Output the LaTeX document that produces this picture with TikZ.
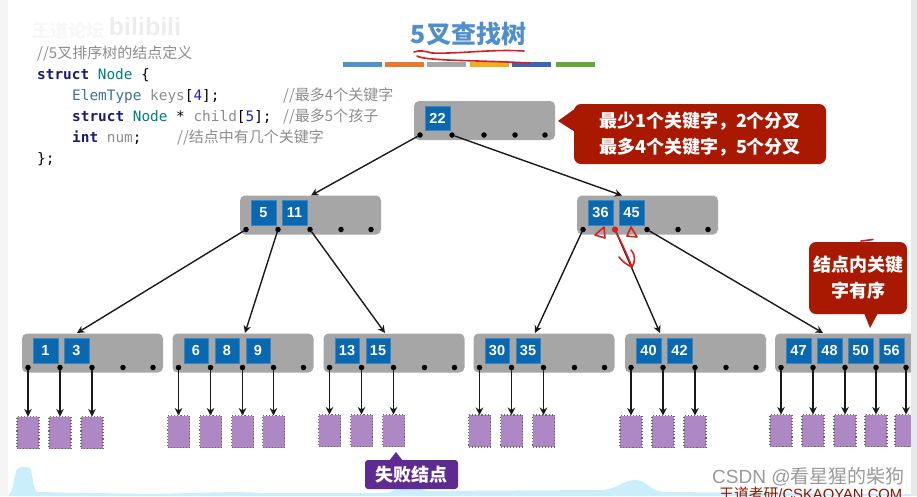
\documentclass[tikz,border=0pt]{standalone}
\usepackage{fontspec}
\setmainfont{Liberation Sans}
\setmonofont{DejaVu Sans Mono}
\newfontfamily\cjk{Noto Sans CJK SC}
\usetikzlibrary{arrows.meta}
\usetikzlibrary{calc}

\definecolor{nodegray}{HTML}{A6A6A6}
\definecolor{keyblue}{HTML}{0A68B0}
\definecolor{failviolet}{HTML}{AE88C4}
\definecolor{notered}{HTML}{A91800}
\definecolor{notepurple}{HTML}{5F2A91}
\definecolor{inkred}{HTML}{D81E1E}
\definecolor{hillblue}{HTML}{CBEEFB}
\definecolor{commentgray}{HTML}{8C8C8C}
\definecolor{titleblue}{HTML}{4F8FCB}

\tikzset{
	nodebox/.style={fill=nodegray,rounded corners=5pt,minimum width=141pt,minimum height=39pt,inner sep=0pt,outer sep=0pt,anchor=north west},
	keybox/.style={fill=keyblue,draw=keyblue!80!white,line width=.5pt,minimum size=24.5pt,inner sep=0pt,text=white,font=\bfseries\fontsize{14.5}{14.5}\selectfont},
	dotnode/.style={circle,fill=black,minimum size=5.5pt,inner sep=0pt,outer sep=0pt},
	failbox/.style={fill=failviolet,draw=black!60,dotted,line width=1.1pt,minimum width=22pt,minimum height=32pt,inner sep=0pt,outer sep=0pt},
	link/.style={-{Stealth[length=7.5pt,width=7.5pt]},line width=1.4pt,black!90},
	notebox/.style={fill=notered,rounded corners=7pt,inner sep=0pt,text=white,align=center,font=\cjk\bfseries\fontsize{18}{26}\selectfont},
	codeline/.style={anchor=base west,inner sep=0pt,font=\ttfamily\fontsize{14.4}{14.4}\selectfont,text=commentgray},
	comment/.style={anchor=base west,inner sep=0pt,font=\cjk\fontsize{15}{15}\selectfont,text=commentgray},
	scribble/.style={inkred,line width=1.6pt,line cap=round,line join=round}
}
\newcommand{\kw}[1]{\textcolor[HTML]{1A1A6E}{\textbf{#1}}}
\newcommand{\ty}[1]{\textcolor[HTML]{007F7F}{#1}}
\newcommand{\tn}[1]{\textcolor[HTML]{3F6E9E}{#1}}
\newcommand{\nm}[1]{\textcolor[HTML]{2020C0}{#1}}
\newcommand{\ink}[1]{\textcolor{black}{#1}}

% gray node: name, x, y, keys
\newcommand{\treenode}[4]{
	\node[nodebox] (#1) at (#2,#3) {};
	\foreach \k [count=\i] in {#4}
		\node[keybox] (#1k\i) at ($(#1.north west)+(-7.5+31*\i,17)$) {\k};
	\foreach \d [count=\i] in {6,38,70,101,131}
		\node[dotnode] (#1d\i) at ($(#1.north west)+(\d,34)$) {};
}
% failure boxes under a node
\newcommand{\failures}[3]{
	\foreach \x [count=\i] in {#2} {
		\node[failbox] (#1f\i) at (\x,#3) {};
		\draw[link] (#1d\i) -- (#1f\i.north);
	}
}

\begin{document}
\begin{tikzpicture}[x=1pt,y=-1pt]
	\useasboundingbox (0,0) rectangle (917,496);
	\fill[black!4] (0,0) rectangle (8,496);

	% hills at the bottom
	\fill[hillblue] (8,496) -- (12,490) .. controls (15,478) and (15,467) .. (20,467) -- (28,467) .. controls (33,467) and (32,488) .. (37,492)
		-- (150,494) .. controls (200,493) and (240,491) .. (260,493) -- (385,493) .. controls (398,492) and (400,482) .. (408,482) .. controls (416,482) and (418,492) .. (432,491)
		-- (600,490) .. controls (618,490) and (622,480) .. (635,480) .. controls (648,480) and (646,490) .. (665,492) -- (911,494) -- (911,496) -- cycle;

	% watermark
	\node[inner sep=0pt,text=black!3,font=\cjk\bfseries\fontsize{18}{18}\selectfont] (forum) at (68,31) {王道论坛};
	\node[inner sep=0pt,text=black!7,font=\bfseries\fontsize{25}{25}\selectfont] (bili) at (145,27) {bilibili};

	% title and colored bars
	\node[inner sep=0pt,text=titleblue,font=\cjk\bfseries\fontsize{25}{25}\selectfont] (title) at (468.5,34) {5叉查找树};
	\foreach \c/\x in {4F93CE/343,E67A2A/385,A6A6A6/427,EDAE1F/470,3A66B8/512,66A83C/556} {
		\definecolor{barcolor}{HTML}{\c}
		\fill[barcolor] (\x,62) rectangle ++(38.5,4.5);
	}
	\draw[scribble] (414,52) .. controls (420,50) and (424,51) .. (432,53) .. controls (460,54) and (490,49) .. (524,51);
	\draw[scribble] (417,56) .. controls (426,61) and (470,60) .. (530,63);

	% code
	\node[comment] (c0) at (37,58) {//5叉排序树的结点定义};
	\node[codeline] (c1) at (37,79) {\kw{struct} \ty{Node} \ink{\{}};
	\node[codeline] (c2) at (72,100) {\tn{ElemType} keys\ink{[}\nm{4}\ink{];}};
	\node[comment] (c2a) at (283,100) {//最多4个关键字};
	\node[codeline] (c3) at (72,121) {\kw{struct} \ty{Node} \ink{*} child\ink{[}\nm{5}\ink{];}};
	\node[comment] (c3a) at (283,121) {//最多5个孩子};
	\node[codeline] (c4) at (72,142) {\kw{int} num\ink{;}};
	\node[comment] (c4a) at (177,142) {//结点中有几个关键字};
	\node[codeline] (c5) at (37,163) {\ink{\};}};

	% tree
	\treenode{root}{414}{101}{22}
	\treenode{left}{240}{195.5}{5,11}
	\treenode{right}{577}{195.5}{36,45}
	\treenode{a}{22}{333.5}{1,3}
	\treenode{b}{172.5}{333.5}{6,8,9}
	\treenode{c}{323.5}{333.5}{13,15}
	\treenode{d}{473.5}{333.5}{30,35}
	\treenode{e}{625}{333.5}{40,42}
	\treenode{f}{775}{333.5}{47,48,50,56}

	\coordinate (lefttop) at (311,195.5);
	\coordinate (righttop) at (622,195.5);
	\coordinate (atop) at (77,333);
	\coordinate (btop) at (245,333);
	\coordinate (ctop) at (385,333);
	\coordinate (dtop) at (535,333);
	\coordinate (etop) at (660,333);
	\coordinate (ftop) at (823,333);
	\draw[link] (rootd1) -- (lefttop);
	\draw[link] (rootd2) -- (righttop);
	\draw[link] (leftd1) -- (atop);
	\draw[link] (leftd2) -- (btop);
	\draw[link] (leftd3) -- (ctop);
	\draw[link] (rightd1) -- (dtop);
	\draw[link] (rightd2) -- (etop);
	\draw[link] (rightd3) -- (ftop);

	\failures{a}{28,60,92}{432.5}
	\failures{b}{178.5,210.5,242.5,273.5}{431.5}
	\failures{c}{329.5,361.5,393.5}{430.5}
	\failures{d}{479.5,511.5,543.5}{431}
	\failures{e}{631,663,695}{431.5}
	\failures{f}{781,813,845,876,906}{430.5}

	% notes
	\node[notebox,minimum width=252pt,minimum height=60pt] (note1) at (700,134) {最少1个关键字，2个分叉\\最多4个关键字，5个分叉};
	\coordinate (note1tip) at (558,121);
	\fill[notered] ($(note1.north west)+(1,5)$) -- (note1tip) -- ($(note1.north west)+(1,28)$) -- cycle;
	\node[notebox,minimum width=98pt,minimum height=72pt] (note2) at (858,278) {结点内关键\\字有序};
	\coordinate (note2tip) at (870,328);
	\fill[notered] (864,313) -- (note2tip) -- (878,313) -- cycle;
	\node[notebox,fill=notepurple,rounded corners=3pt,minimum width=93pt,minimum height=29pt] (note3) at (411.5,474.5) {失败结点};
	\coordinate (note3tip) at (396,452);
	\fill[notepurple] (389,461) -- (note3tip) -- (403,461) -- cycle;

	% hand marks
	\fill[inkred] (rightd2) circle (3pt);
	\draw[scribble] (rightd2) .. controls (620,240) and (626,252) .. (632,267);
	\draw[scribble] (619,257) .. controls (623,262) and (627,265) .. (632,267) .. controls (635,262) and (636,256) .. (631,250);
	\draw[scribble] (604,227) -- (595,235) -- (605,238) -- cycle;
	\draw[scribble] (631,227) -- (627,236) -- (637,237) -- cycle;
	\draw[scribble] (861,241) -- (873,239.5);

	% watermark text
	\node[inner sep=0pt,anchor=west,text=black!50,opacity=.8,font=\fontsize{19}{19}\selectfont] (csdn) at (712,477) {CSDN @{\cjk 看星猩的柴狗}};
	\node[inner sep=0pt,anchor=west,text=notered!85!black,font=\fontsize{14.8}{14.8}\selectfont] (site) at (719,494) {{\cjk 王道考研}/CSKAOYAN.COM};

	% right edge of the frame
	\fill[black!9] (911,0) rectangle (917,496);
\end{tikzpicture}
\end{document}
